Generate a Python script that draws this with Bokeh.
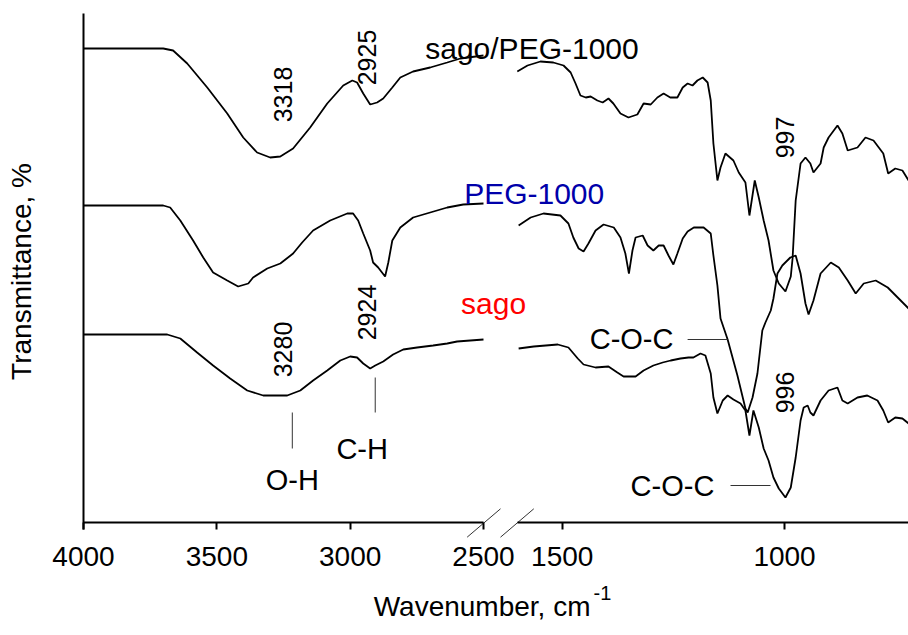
import math
from bokeh.plotting import figure
from bokeh.models import Range1d, LinearAxis, FixedTicker
from bokeh.embed import file_html
from bokeh.resources import INLINE
from bokeh.core.properties import value

# ---------------- data (transmittance in arbitrary offset units) ----------------
# high-wavenumber segment, 4000-2500 cm-1
blend_wn_hi = [4000, 3900, 3701, 3664, 3611, 3536, 3461, 3401, 3349, 3300, 3262, 3214, 3150, 3086,
               3026, 2992, 2974, 2951, 2925, 2899, 2876, 2842, 2812, 2764, 2700, 2636, 2587, 2500]
blend_t_hi = [474, 474, 474, 472, 459, 435, 409, 385, 370, 365, 366, 374, 395, 419,
              437, 442, 440, 429, 418, 420, 424, 435, 445, 451, 455, 460, 464, 467]

peg_wn_hi = [4000, 3701, 3675, 3637, 3589, 3551, 3514, 3461, 3420, 3382, 3364, 3311, 3262, 3214,
             3180, 3139, 3075, 3011, 2989, 2970, 2951, 2925, 2914, 2895, 2869, 2857, 2842, 2812,
             2764, 2700, 2636, 2576, 2500]
peg_t_hi = [317, 317, 315, 302, 282, 265, 250, 242, 236, 239, 245, 254, 259, 269,
            280, 292, 302, 309, 309, 302, 289, 272, 260, 255, 246, 260, 282, 295,
            305, 310, 315, 318, 319]

sago_wn_hi = [4000, 3686, 3637, 3574, 3514, 3450, 3386, 3326, 3236, 3187, 3139, 3086, 3037,
              3000, 2974, 2951, 2925, 2906, 2876, 2839, 2801, 2749, 2689, 2636, 2599, 2500]
sago_t_hi = [188, 188, 184, 170, 157, 144, 132, 127, 127, 132, 142, 152, 162,
             166, 165, 159, 154, 157, 161, 168, 173, 175, 177, 179, 181, 183]

# fingerprint segment, 1600-720 cm-1
blend_wn_lo = [1601, 1578, 1549, 1520, 1497, 1481, 1470, 1459, 1447, 1436, 1421, 1409, 1396, 1385,
               1369, 1351, 1331, 1317, 1301, 1286, 1272, 1257, 1241, 1229, 1218, 1207, 1196, 1184,
               1173, 1166, 1160, 1151, 1144, 1133, 1115, 1103, 1088, 1079, 1067, 1058, 1047, 1036,
               1025, 1013, 998, 986, 982, 975, 964, 953, 942, 935, 919, 912, 901, 881, 870, 858,
               836, 818, 800, 778, 767, 751, 735, 721]
blend_t_lo = [451, 457, 461, 460, 457, 450, 439, 427, 425, 426, 422, 420, 424, 419,
              409, 405, 408, 419, 418, 425, 429, 425, 425, 435, 439, 437, 442, 445,
              440, 422, 379, 342, 355, 369, 362, 350, 340, 307, 342, 325, 302, 282,
              252, 239, 231, 246, 264, 322, 359, 365, 359, 350, 359, 375, 385, 397, 389, 372,
              375, 385, 382, 369, 349, 354, 352, 342]

peg_wn_lo = [1598, 1571, 1542, 1504, 1486, 1475, 1463, 1452, 1441, 1425, 1407, 1384, 1369, 1358,
             1350, 1342, 1335, 1319, 1308, 1295, 1283, 1272, 1261, 1250, 1241, 1229, 1218, 1204,
             1182, 1166, 1160, 1151, 1144, 1128, 1106, 1088, 1083, 1072, 1061, 1050, 1043, 1031,
             1025, 1016, 1005, 987, 975, 964, 953, 946, 935, 919, 896, 878, 858, 840, 822, 795,
             768, 721]
peg_t_lo = [297, 305, 309, 307, 299, 285, 274, 271, 279, 292, 298, 295, 285, 269,
            249, 272, 285, 287, 277, 272, 277, 277, 267, 258, 269, 284, 291, 295,
            295, 289, 267, 237, 204, 183, 147, 114, 110, 125, 149, 192, 200, 212,
            224, 249, 257, 265, 267, 249, 219, 208, 222, 249, 260, 255, 242, 229, 239, 242,
            235, 214]

sago_wn_lo = [1598, 1564, 1510, 1486, 1465, 1452, 1425, 1396, 1376, 1362, 1335, 1317, 1295, 1274,
              1256, 1234, 1216, 1205, 1189, 1178, 1166, 1160, 1151, 1139, 1128, 1115, 1099, 1088,
              1079, 1070, 1058, 1047, 1036, 1025, 1013, 998, 986, 975, 964, 957, 948, 942, 935,
              919, 901, 881, 870, 858, 836, 814, 791, 778, 767, 751, 735, 721]
sago_t_lo = [174, 176, 178, 175, 164, 158, 155, 156, 150, 146, 146, 152, 157, 160,
             162, 164, 165, 165, 169, 167, 149, 125, 109, 122, 127, 123, 119, 112,
             87, 112, 95, 74, 62, 45, 34, 25, 35, 65, 102, 115, 117, 110, 107,
             122, 132, 135, 122, 119, 125, 127, 122, 112, 100, 105, 104, 99]

ticks_hi = [4000, 3500, 3000, 2500]
ticks_lo = [1500, 1000]

FONT = value("Liberation Sans")

# ---------------- figure (frame covers the whole canvas; axes sit at fixed locations) ----------------
p = figure(width=908, height=635, output_backend="svg", toolbar_location=None,
           x_range=Range1d(4311.25, 906.25), y_range=Range1d(-113, 522),
           x_axis_location=None, y_axis_location=None,
           min_border_left=0, min_border_right=0, min_border_top=0, min_border_bottom=0)
p.extra_x_ranges = {"fp": Range1d(2763.1, 721.3)}
p.outline_line_color = None
p.grid.visible = False
p.background_fill_color = "white"
p.border_fill_color = "white"


def style_x(ax):
    ax.axis_line_width = 2
    ax.axis_line_color = "black"
    ax.major_tick_out = 7
    ax.major_tick_in = 0
    ax.major_tick_line_width = 2
    ax.major_tick_line_color = "black"
    ax.minor_tick_line_color = None
    ax.major_label_text_font = "Liberation Sans"
    ax.major_label_text_font_size = "28px"
    ax.major_label_text_color = "black"
    ax.major_label_standoff = 17


ax_hi = LinearAxis(ticker=FixedTicker(ticks=ticks_hi), bounds=(2500, 4000), fixed_location=0)
style_x(ax_hi)
p.add_layout(ax_hi, "below")

ax_lo = LinearAxis(x_range_name="fp", ticker=FixedTicker(ticks=ticks_lo), bounds=(721.3, 1600),
                   fixed_location=0)
style_x(ax_lo)
p.add_layout(ax_lo, "below")

ay = LinearAxis(ticker=FixedTicker(ticks=[]), bounds=(-7, 509), fixed_location=4000,
                axis_label="Transmittance, %")
ay.axis_line_width = 2
ay.axis_line_color = "black"
ay.major_tick_line_color = None
ay.minor_tick_line_color = None
ay.major_label_text_font_size = "0px"
ay.axis_label_text_font = "Liberation Sans"
ay.axis_label_text_font_size = "28px"
ay.axis_label_text_font_style = "normal"
ay.axis_label_text_color = "black"
ay.axis_label_standoff = 47
p.add_layout(ay, "left")

# ---------------- spectra ----------------
LW = 1.8
p.line(blend_wn_hi, blend_t_hi, line_color="black", line_width=LW)
p.line(peg_wn_hi, peg_t_hi, line_color="black", line_width=LW)
p.line(sago_wn_hi, sago_t_hi, line_color="black", line_width=LW)
p.line(blend_wn_lo, blend_t_lo, line_color="black", line_width=LW, x_range_name="fp")
p.line(peg_wn_lo, peg_t_lo, line_color="black", line_width=LW, x_range_name="fp")
p.line(sago_wn_lo, sago_t_lo, line_color="black", line_width=LW, x_range_name="fp")

# ---------------- series names ----------------
p.text(x=[1568], y=[474], text=["sago/PEG-1000"], x_range_name="fp", text_font=FONT,
       text_font_size=value("30px"), text_color="black", text_align="center",
       text_baseline="alphabetic")
p.text(x=[1563], y=[329], text=["PEG-1000"], x_range_name="fp", text_font=FONT,
       text_font_size=value("30px"), text_color="#0000AA", text_align="center",
       text_baseline="alphabetic")
p.text(x=[2462], y=[219], text=["sago"], text_font=FONT,
       text_font_size=value("30px"), text_color="#FF0000", text_align="center",
       text_baseline="alphabetic")

# ---------------- peak labels (rotated) ----------------
p.text(x=[3251, 2936, 3251, 2936], y=[428, 465, 173, 210], text=["3318", "2925", "3280", "2924"],
       angle=math.pi / 2, text_font=FONT, text_font_size=value("25px"), text_color="black",
       text_align="center", text_baseline="middle")
p.text(x=[1000, 1000], y=[385, 130], text=["997", "996"], x_range_name="fp",
       angle=math.pi / 2, text_font=FONT, text_font_size=value("25px"), text_color="black",
       text_align="center", text_baseline="middle")

# ---------------- band assignments ----------------
p.text(x=[3217, 2955], y=[43, 74], text=["O-H", "C-H"], text_font=FONT,
       text_font_size=value("29px"), text_color="black", text_align="center",
       text_baseline="alphabetic")
p.segment(x0=[3217, 2906], y0=[110, 145], x1=[3217, 2906], y1=[74, 110],
          line_color="#333333", line_width=1)
p.text(x=[1344, 1252], y=[184, 37], text=["C-O-C", "C-O-C"], x_range_name="fp", text_font=FONT,
       text_font_size=value("29px"), text_color="black", text_align="center",
       text_baseline="alphabetic")
p.segment(x0=[1218, 1121.5], y0=[183, 37], x1=[1128, 1031.6], y1=[183, 37],
          x_range_name="fp", line_color="#333333", line_width=1)

# ---------------- axis break marks ----------------
p.segment(x0=[2561.4, 2436.25], y0=[-14.7, -14.7], x1=[2436.25, 2311.4], y1=[13.7, 13.7],
          line_color="#333333", line_width=1)

# ---------------- x axis title ----------------
p.text(x=[2098.75], y=[-84], text=["Wavenumber, cm"], text_font=FONT,
       text_font_size=value("28px"), text_color="black", text_align="right",
       text_baseline="alphabetic")
p.text(x=[2087.5], y=[-70], text=["-1"], text_font=FONT,
       text_font_size=value("20px"), text_color="black", text_align="left",
       text_baseline="alphabetic")

open("out.html", "w").write(file_html(p, INLINE))
